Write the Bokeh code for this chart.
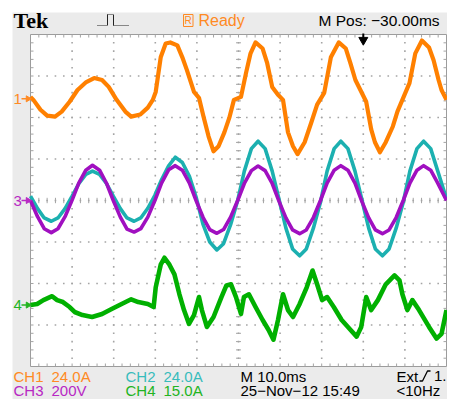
import numpy as np
from bokeh.plotting import figure
from bokeh.models import Range1d
from bokeh.core.properties import value
from bokeh.embed import file_html
from bokeh.resources import INLINE

# ---------------- data (read from the screen) ----------------
# time in ms (10 ms/div, 10 div), values in channel units
ch1_t = [0, 0.7, 2.4, 4.0, 5.9, 7.5, 9.4, 11.3, 13.4, 15.3, 17.2, 18.8, 20.7, 22.8, 24.2, 26.4, 28.2, 29.4,
         30.1, 31.3, 32.5, 33.6, 35.3, 36.5, 37.6, 39.3, 40.5, 41.6, 42.8, 44.0, 45.2, 46.6, 47.8, 48.9,
         50.6, 51.8, 52.9, 54.1, 55.8, 56.9, 58.1, 59.5, 60.7, 61.9, 63.1, 64.2, 65.9, 67.5, 68.9, 70.6,
         72.2, 74.1, 75.8, 76.9, 78.1, 79.3, 80.7, 81.9, 82.8, 84.0, 85.4, 87.1, 88.2, 89.9, 91.1, 92.5,
         94.1, 95.8, 96.9, 98.1, 98.8, 100]
ch1_amps = [1.1, -0.6, -6.3, -9.7, -10.3, -7.4, -1.7, 5.1, 9.7, 12.0, 10.9, 6.9, -0.6, -7.4, -10.3, -9.1,
            -5.1, -0.6, 4.0, 24.0, 32.0, 32.6, 30.9, 24.0, 16.6, 4.0, 0.6, -10.3, -21.7, -30.3, -27.4,
            -19.4, -10.9, -0.6, 1.1, 14.9, 26.3, 32.6, 29.1, 20.6, 6.9, 2.3, -0.6, -19.4, -27.4, -32.0,
            -25.1, -13.7, -3.4, 3.4, 24.0, 32.6, 29.1, 20.6, 10.9, 5.1, -1.7, -17.7, -25.1, -30.9, -25.1,
            -16.0, -7.4, 2.3, 9.1, 26.3, 33.7, 29.7, 22.3, 10.9, 5.1, -0.6]

ch23_t = [0, 1.7, 3.3, 5.0, 6.6, 8.3, 10.0, 11.6, 13.3, 14.9, 16.6, 18.3,
          19.9, 21.6, 23.2, 24.9, 26.5, 28.2, 29.9, 31.5, 33.2, 34.8, 36.5, 38.2,
          39.8, 41.5, 43.1, 44.8, 46.4, 48.1, 49.8, 51.4, 53.1, 54.7, 56.4, 58.1,
          59.7, 61.4, 63.0, 64.7, 66.3, 68.0, 69.7, 71.3, 73.0, 74.6, 76.3, 78.0,
          79.6, 81.3, 82.9, 84.6, 86.2, 87.9, 89.6, 91.2, 92.9, 94.5, 96.2, 97.9, 100]
ch2_amps = [2.5, -4.7, -10.1, -12.0, -10.1, -4.7, 2.5, 9.7, 15.1, 17.0, 15.1, 9.7,
            2.5, -4.7, -10.1, -12.0, -10.1, -4.5, 3.0, 12.0, 20.0, 25.0, 22.0, 14.0,
            2.0, -14.0, -24.0, -28.6, -25.0, -14.0, 0.0, 17.0, 30.0, 34.3, 30.0, 17.0,
            1.0, -16.0, -28.0, -32.0, -28.0, -16.0, -1.0, 17.0, 30.0, 34.3, 30.0, 17.0,
            1.0, -16.0, -28.0, -32.0, -28.0, -16.0, -1.0, 17.0, 30.0, 34.3, 30.0, 17.0, 1.0]
ch3_volts = [0, -78, -136, -155, -136, -78, 2, 84, 146, 170, 146, 82,
             0, -80, -138, -152, -136, -80, 0, 84, 148, 168, 146, 84,
             0, -82, -140, -158, -140, -80, 0, 82, 144, 166, 144, 82,
             -2, -84, -142, -160, -142, -82, 0, 84, 146, 168, 146, 84,
             -2, -84, -142, -160, -142, -82, 0, 84, 146, 168, 146, 84, 0]

ch4_t = [0, 1.6, 3.1, 5.2, 6.4, 7.8, 9.4, 10.6, 12.5, 14.8, 17.2, 19.5, 21.9, 24.2, 25.9, 28.2, 29.6,
         30.1, 31.3, 32.2, 33.4, 34.6, 35.8, 36.9, 38.1, 39.3, 40.5, 41.2, 42.4, 44.0, 45.9, 47.1, 48.2,
         49.4, 50.6, 51.3, 52.5, 54.1, 55.8, 57.2, 58.4, 59.5, 60.7, 61.9, 63.1, 64.7, 66.4, 67.8, 68.9,
         70.1, 71.3, 72.9, 74.8, 76.9, 78.4, 79.5, 80.7, 81.9, 83.5, 85.4, 87.5, 88.7, 89.4, 90.6, 91.8,
         93.4, 95.8, 97.6, 98.8, 100]
ch4_amps = [0, 0.4, 1.8, 3.2, 1.8, 1.1, -0.7, -2.5, -3.6, -4.3, -3.2, -1.4, 0.4, 2.1, 1.1, 0.4, -0.7,
            6.4, 14.6, 17.1, 14.6, 11.1, 3.9, -1.8, -6.8, -3.6, 2.9, -1.8, -7.9, -4.3, 2.9, 7.1, 7.5,
            2.9, -3.2, 2.9, 3.9, -0.7, -5.4, -8.9, -12.5, -5.4, 3.9, -1.8, -4.3, 0.4, 6.4, 12.5, 7.5,
            1.8, 2.9, -0.7, -5.4, -8.9, -11.4, -7.9, 2.9, -1.8, 1.8, 7.5, 10.7, 8.9, 3.9, -1.8, 1.8,
            -1.8, -7.9, -12.1, -10.4, -1.8]

channels = ["CH1", "CH2", "CH3", "CH4"]
scales = {"CH1": 24.0, "CH2": 24.0, "CH3": 200.0, "CH4": 15.0}   # units per division
scale_text = {"CH1": "24.0A", "CH2": "24.0A", "CH3": "200V", "CH4": "15.0A"}
offsets = {"CH1": 2.45, "CH2": 0.0, "CH3": 0.0, "CH4": -2.52}     # ground marker, divisions
time_label = "M 10.0ms"
date_label = "25\u2212Nov\u221212 15:49"
pos_label = "M Pos: \u221230.00ms"
trig_label, trig_level, freq_label = "Ext", "1.", "<10Hz"
trig_pos_ms = 80.0

# ---------------- styling ----------------
C1, C2, C3, C4 = "#ff8000", "#1cb0b0", "#a010c0", "#00b000"
T1, T2, T3, T4 = "#ff8a24", "#38bcbc", "#b828c4", "#22b422"
GRID = "#a4a4a4"
FONT = "Liberation Sans"
FS = "15px"

# screen frame: x 30..446 px (10 div), y 34..366 px (8 div)
PXMS, PXDIV, YC = 4.16, 41.5, 200.0

def X(px):
    return (px - 30.0) / PXMS

def Y(py):
    return (YC - py) / PXDIV

p = figure(width=447, height=399, x_range=Range1d(X(0), X(447)), y_range=Range1d(Y(399), Y(0)),
           output_backend="svg", toolbar_location=None, min_border=0,
           x_axis_location=None, y_axis_location=None)
p.outline_line_color = None
p.grid.grid_line_color = None
p.background_fill_color = "white"
p.border_fill_color = "white"

# grey instrument background + white screen
p.quad(left=[X(12)], right=[X(460)], bottom=[Y(410)], top=[Y(12)], fill_color="#ebebeb", line_color=None)
p.quad(left=[0], right=[100], bottom=[-4], top=[4], fill_color="white", line_color="#9c9c9c", line_width=1)

# graticule dots
dx, dyy = [], []
for t in range(10, 100, 10):
    for d in np.arange(-3.8, 3.81, 0.2):
        dx.append(t); dyy.append(d)
for d in range(-3, 4):
    for t in np.arange(2, 99, 2):
        dx.append(t); dyy.append(d)
p.scatter(dx, dyy, marker="square", size=1.6, color=GRID, line_color=None)

# border & centre ticks
tl = 3.0 / PXMS
tv = 3.0 / PXDIV
x0s, y0s, x1s, y1s = [], [], [], []
for d in np.arange(-3.8, 3.81, 0.2):
    x0s += [0, 100 - tl, 50 - 0.6]; x1s += [tl, 100, 50 + 0.6]; y0s += [d, d, d]; y1s += [d, d, d]
for t in np.arange(2, 99, 2):
    x0s += [t, t, t]; x1s += [t, t, t]; y0s += [4, -4, -0.065]; y1s += [4 - tv, -4 + tv, 0.065]
p.segment(x0s, y0s, x1s, y1s, line_color=GRID, line_width=1)

# traces
def ypos(ch, vals):
    return offsets[ch] + np.asarray(vals) / scales[ch]

p.line(ch23_t, ypos("CH2", ch2_amps), line_color=C2, line_width=3.6, line_join="round")
p.line(ch23_t, ypos("CH3", ch3_volts), line_color=C3, line_width=3.6, line_join="round")
p.line(ch1_t, ypos("CH1", ch1_amps), line_color=C1, line_width=4.2, line_join="round")
p.line(ch4_t, ypos("CH4", ch4_amps), line_color=C4, line_width=4.6, line_join="round")

# channel ground markers
for ch, lab, col in [("CH1", "1", T1), ("CH3", "3", T3), ("CH4", "4", T4)]:
    yy = offsets[ch]
    p.text([X(13)], [yy], text=[lab], text_color=col, text_font=value(FONT), text_font_size=FS,
           text_baseline="middle", text_align="left")
    p.segment([X(21)], [yy], [X(27)], [yy], line_color=col, line_width=1.5)
    p.scatter([X(27.5)], [yy], marker="triangle", angle=-np.pi / 2, size=6, color=col)

# trigger position marker
p.segment([trig_pos_ms], [Y(33)], [trig_pos_ms], [Y(38)], line_color="black", line_width=2)
p.scatter([trig_pos_ms], [Y(39.5)], marker="inverted_triangle", size=9, color="black")

# top status line
p.text([X(13)], [Y(20)], text=["Tek"], text_color="black", text_font=value("Liberation Serif"),
       text_font_style="bold", text_font_size="22px", text_baseline="middle", text_align="left")
p.multi_line([[X(97), X(106)], [X(113), X(128)], [X(107), X(113)]], [[Y(25), Y(25)], [Y(25), Y(25)], [Y(14), Y(14)]],
             line_color="#222222", line_width=1, line_dash="1 1")
p.multi_line([[X(107), X(107)], [X(113), X(113)]], [[Y(25), Y(14)], [Y(14), Y(25)]], line_color="#222222", line_width=1)
p.quad(left=[X(183)], right=[X(192.5)], top=[Y(14)], bottom=[Y(26)], fill_color=None, line_color=T1, line_width=1)
p.text([X(187.7)], [Y(20.2)], text=["R"], text_color=T1, text_font=value(FONT), text_font_size="10px",
       text_baseline="middle", text_align="center")
p.text([X(198)], [Y(20)], text=["Ready"], text_color=T1, text_font=value(FONT), text_font_size="16px",
       text_baseline="middle", text_align="left")
p.text([X(318)], [Y(20)], text=[pos_label], text_color="black", text_font=value(FONT), text_font_size="15.5px",
       text_baseline="middle", text_align="left")

# bottom readouts
r1, r2 = Y(375.5), Y(389.5)
cols = {"CH1": T1, "CH2": T2, "CH3": T3, "CH4": T4}
rows = {"CH1": r1, "CH2": r1, "CH3": r2, "CH4": r2}
colx = {"CH1": 13, "CH2": 125, "CH3": 13, "CH4": 125}
tx_, ty_, tt_, tc_, ta_ = [], [], [], [], []
for ch in channels:
    tx_ += [X(colx[ch]), X(colx[ch] + 38)]
    ty_ += [rows[ch]] * 2
    tt_ += [ch, scale_text[ch]]
    tc_ += [cols[ch]] * 2
    ta_ += ["left", "left"]
for x_, y_, s_, c_, a_ in [(240, r1, time_label, "black", "left"), (240, r2, date_label, "black", "left"),
                           (396, r1, trig_label, "black", "left"), (446, r1, trig_level, "black", "right"),
                           (396, r2, freq_label, "black", "left")]:
    tx_.append(X(x_)); ty_.append(y_); tt_.append(s_); tc_.append(c_); ta_.append(a_)
p.text(tx_, ty_, text=tt_, text_color=tc_, text_align=ta_, text_font=value(FONT), text_font_size=FS,
       text_baseline="middle")
p.line([X(419), X(422), X(427), X(430)], [Y(380.5), Y(380.5), Y(370.5), Y(370.5)], line_color="black", line_width=1.3)

open("out.html", "w").write(file_html(p, INLINE))
